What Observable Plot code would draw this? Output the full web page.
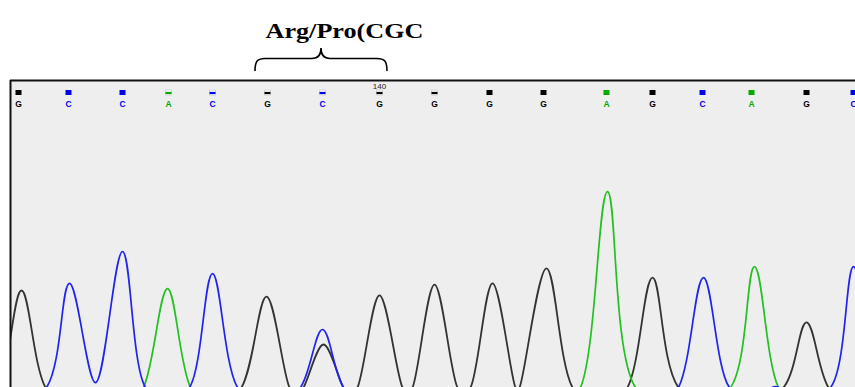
<!DOCTYPE html>
<html>
<head>
<meta charset="utf-8">
<script src="https://cdn.jsdelivr.net/npm/d3@7"></script>
<script src="https://cdn.jsdelivr.net/npm/@observablehq/plot@0.6"></script>
<style>
  html, body { margin: 0; padding: 0; background: #fff; }
  #chart svg { display: block; }
</style>
</head>
<body>
<div id="chart"></div>
<script>
// ---- data ----
const titleText = "Arg/Pro(CGC";
const bases    = ["G","C","C","A","C","G","C","G","G","G","G","A","G","C","A","G","C"];
const basePos  = [18, 68, 122, 168, 212, 267, 322, 379, 434, 489, 543, 606, 652, 702, 751, 806, 853];
const openCall = [false,false,false,true,true,true,true,true,true,false,false,false,false,false,false,false,false];
const posLabelIndex = 7;   // base numbered 140
const posLabelText = "140";
const codonIdx = [5, 6, 7];

// G (black) trace: scan position, signal
const gX = [-30, -2, 21, 45, 75, 210, 241, 266, 289, 296, 303, 323, 343, 350, 357, 379, 402, 407, 412, 434, 457, 463, 470, 492, 515, 517, 519, 546, 572, 600, 627, 652, 678, 730, 783, 806, 828, 860];
const gV = [0, 100, 416, 100, 0, 0, 100, 396, 100, 70, 100, 240, 100, 70, 100, 400, 100, 80, 100, 435, 100, 80, 100, 439, 100, 94, 100, 488, 100, 10, 100, 458, 100, 0, 100, 312, 100, 0];
// C (blue) trace
const cX = [-30, 0, 46, 69, 95, 122, 145, 167, 189, 212, 237, 268, 300, 322, 343, 375, 650, 678, 703, 729, 752, 775, 798, 830, 853, 876, 900];
const cV = [0, 0, 100, 439, 116, 543, 100, 50, 100, 471, 100, 10, 100, 289, 100, 0, 0, 100, 458, 100, 60, 103, 60, 100, 494, 100, 0];
// A (green) trace
const aX = [-30, 120, 143, 167, 190, 215, 555, 580, 607, 635, 682, 730, 754, 778, 805, 900];
const aV = [0, 0, 100, 422, 100, 0, 0, 100, 738, 100, 10, 100, 494, 100, 0, 0];

// ---- styles ----
const traceColor = {G: "#333333", C: "#2323f0", A: "#22c022"};
const callColor  = {G: "#000000", C: "#0000ee", A: "#00aa00"};

const toRows = (xs, vs) => xs.map((x, i) => ({x, v: vs[i]}));
const calls = bases.map((b, i) => ({base: b, x: basePos[i], open: openCall[i], fill: callColor[b]}));

const squareSym = {draw(ctx) { ctx.rect(-3, -2.5, 6, 5); }};
const barSym    = {draw(ctx) { ctx.rect(-3, -0.6, 6, 2.2); }};

const plot = Plot.plot({
  width: 855,
  height: 387,
  marginTop: 80,
  marginLeft: 10,
  marginRight: 0,
  marginBottom: 0,
  x: {domain: [10, 855], axis: null},
  y: {domain: [100, 1100], axis: null},
  color: {type: "identity"},
  style: {background: "#ffffff", fontFamily: "'Liberation Sans', Arial, sans-serif"},
  marks: [
    Plot.frame({fill: "#eeeeee", stroke: null}),
    Plot.line(toRows(gX, gV), {x: "x", y: "v", stroke: traceColor.G, strokeWidth: 1.8, curve: "catmull-rom", clip: true}),
    Plot.line(toRows(aX, aV), {x: "x", y: "v", stroke: traceColor.A, strokeWidth: 1.7, curve: "catmull-rom", clip: true}),
    Plot.line(toRows(cX, cV), {x: "x", y: "v", stroke: traceColor.C, strokeWidth: 1.7, curve: "catmull-rom", clip: true}),
    Plot.ruleY([1100], {stroke: "#111", strokeWidth: 2}),
    Plot.ruleX([10], {stroke: "#111", strokeWidth: 2}),
    // base-call markers
    Plot.dot(calls.filter(d => !d.open), {x: "x", frameAnchor: "top", dy: 12, symbol: squareSym, fill: "fill", stroke: null}),
    Plot.dot(calls.filter(d => d.open), {x: "x", frameAnchor: "top", dy: 12, symbol: squareSym, fill: "#fdfdfd", stroke: "#c0c0c0", strokeWidth: 0.6}),
    Plot.dot(calls.filter(d => d.open), {x: "x", frameAnchor: "top", dy: 12, symbol: barSym, fill: "fill", stroke: null}),
    Plot.text(calls, {x: "x", frameAnchor: "top", dy: 20, text: "base", fill: "fill", fontWeight: "bold", fontSize: 8.5}),
    Plot.text([posLabelText], {x: () => basePos[posLabelIndex], frameAnchor: "top", dy: 3, text: d => d, fill: "#222", fontSize: 8}),
    // title
    Plot.text([titleText], {x: () => basePos[codonIdx[1]], frameAnchor: "top", dx: 22, dy: -56.5, text: d => d,
      fontFamily: "'Liberation Serif', 'Times New Roman', serif", fontWeight: "bold", fontSize: 20, fill: "#000"})
  ]
});

// brace above the codon, positioned through the x scale
const sx = plot.scale("x");
const svg = d3.select(plot.tagName.toLowerCase() === "svg" ? plot : plot.querySelector("svg"));
const xl = sx.apply(basePos[codonIdx[0]]) - 12;
const xm = sx.apply(basePos[codonIdx[1]]) - 1;
const xr = sx.apply(basePos[codonIdx[2]]) + 8;
const yEnd = 71, yArm = 58.5, yTip = 48;
const bracePath = `M${xl},${yEnd} C${xl},${yArm + 2} ${xl + 3},${yArm} ${xl + 10},${yArm} L${xm - 9},${yArm} C${xm - 3},${yArm} ${xm},${yArm - 3} ${xm},${yTip} C${xm},${yArm - 3} ${xm + 3},${yArm} ${xm + 9},${yArm} L${xr - 10},${yArm} C${xr - 3},${yArm} ${xr},${yArm + 2} ${xr},${yEnd}`;
svg.append("path").attr("d", bracePath).attr("fill", "none").attr("stroke", "#000").attr("stroke-width", 1.6);

// stretch the title to the width seen in the reference
svg.selectAll("text").filter(function() { return this.textContent === titleText; })
  .attr("textLength", 158).attr("lengthAdjust", "spacingAndGlyphs");

document.getElementById("chart").append(plot);
</script>
</body>
</html>
